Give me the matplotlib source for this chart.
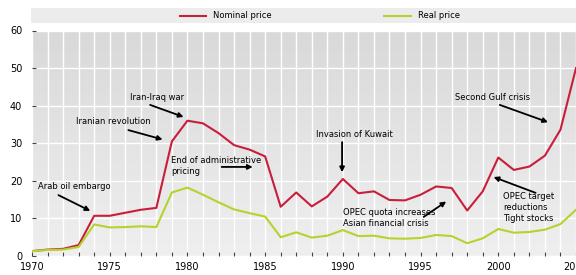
import numpy as np
import matplotlib
matplotlib.use('Agg')
import matplotlib.pyplot as plt

# data
years = list(range(1970, 2006))
nominal = [1.3, 1.7, 1.9, 2.9, 10.7, 10.7, 11.5, 12.3, 12.8, 30.5,
           36.0, 35.3, 32.7, 29.5, 28.3, 26.5, 13.1, 16.9, 13.2, 15.8,
           20.5, 16.7, 17.2, 14.9, 14.8, 16.3, 18.5, 18.1, 12.1, 17.2,
           26.2, 22.9, 23.8, 26.7, 33.6, 50.0]
real = [1.3, 1.6, 1.7, 2.4, 8.4, 7.6, 7.7, 7.9, 7.7, 16.9,
        18.2, 16.3, 14.3, 12.4, 11.4, 10.5, 5.0, 6.3, 4.9, 5.4,
        6.9, 5.3, 5.4, 4.7, 4.6, 4.8, 5.6, 5.3, 3.4, 4.7,
        7.2, 6.2, 6.4, 7.0, 8.5, 12.3]
series_names = ['Nominal price', 'Real price']
colors = ['#c81e3c', '#b4d42c']
xtick_years = [1970, 1975, 1980, 1985, 1990, 1995, 2000, 2005]
yticks = [0, 10, 20, 30, 40, 50, 60]

# annotations: text, text position, arrow start, arrow end (data coords)
notes = [
    ('Arab oil embargo', (1970.4, 18.4), (1971.7, 16.2), (1973.75, 12.0)),
    ('Iranian revolution', (1972.8, 35.9), (1976.2, 33.5), (1978.4, 31.0)),
    ('Iran-Iraq war', (1976.3, 42.3), (1977.6, 40.2), (1979.75, 37.0)),
    ('End of administrative\npricing', (1978.95, 23.9), (1982.2, 23.7), (1984.2, 23.7)),
    ('Invasion of Kuwait', (1988.3, 32.2), (1989.95, 30.3), (1989.95, 22.3)),
    ('OPEC quota increases\nAsian financial crisis', (1990.0, 10.1), (1995.2, 10.4), (1996.65, 14.5)),
    ('Second Gulf crisis', (1997.2, 42.3), (2000.1, 40.2), (2003.2, 35.6)),
    ('OPEC target\nreductions\nTight stocks', (2000.3, 12.8), (2002.4, 16.8), (1999.7, 21.0)),
]

plt.rcParams['font.family'] = ['Liberation Sans Narrow', 'DejaVu Sans']

fig = plt.figure(figsize=(5.76, 2.75), dpi=100, facecolor='white')
ax = fig.add_axes([32/576, 1 - 256/275, 1 - 32/576, (256 - 30.5)/275])

# grey gradient background
grad = np.linspace(0, 1, 100).reshape(-1, 1)
ax.imshow(grad, extent=[1970, 2005, 0, 60], aspect='auto', origin='lower',
          cmap=matplotlib.colors.LinearSegmentedColormap.from_list('bg', ['#efefef', '#d9d9d9']),
          zorder=0)
ax.set_xlim(1970, 2005)
ax.set_ylim(0, 60)

for yv in yticks:
    ax.axhline(yv, color='white', lw=1, zorder=1)
for xv in years:
    ax.axvline(xv, color='white', lw=1, zorder=1)

ax.plot(years, nominal, color=colors[0], lw=1.5, zorder=3)
ax.plot(years, real, color=colors[1], lw=1.5, zorder=3)

for s in ax.spines.values():
    s.set_visible(False)

ax.set_xticks(xtick_years)
ax.set_xticklabels([str(y) for y in xtick_years])
ax.set_xticks(years, minor=True)
ax.tick_params(axis='x', which='both', direction='in', length=3, width=0.8,
               color='#444444', labelsize=7, pad=4)
ax.set_yticks(yticks)
ax.tick_params(axis='y', direction='in', length=3, width=0.8,
               color='#444444', labelsize=7, pad=7)

for txt, tpos, a0, a1 in notes:
    ax.text(tpos[0], tpos[1], txt, fontsize=6, ha='left', va='center',
            linespacing=1.3, zorder=5)
    ax.annotate('', xy=a1, xytext=a0,
                arrowprops=dict(arrowstyle='-|>', color='k', lw=1.3,
                                mutation_scale=7, shrinkA=0, shrinkB=0),
                zorder=5)

# legend band on top
lax = fig.add_axes([31/576, 1 - 23/275, 1 - 31/576, 15/275], facecolor='#ececec')
lax.set_xlim(0, 576)
lax.set_ylim(0, 1)
lax.axis('off')
lax.add_patch(plt.Rectangle((0, 0), 576, 1, color='#ececec', zorder=0))
lax.plot([158, 185], [0.5, 0.5], color=colors[0], lw=1.5)
lax.text(192, 0.5, series_names[0], fontsize=6, va='center')
lax.plot([373, 402], [0.5, 0.5], color=colors[1], lw=1.5)
lax.text(409, 0.5, series_names[1], fontsize=6, va='center')

fig.savefig('out.png', dpi=100)
